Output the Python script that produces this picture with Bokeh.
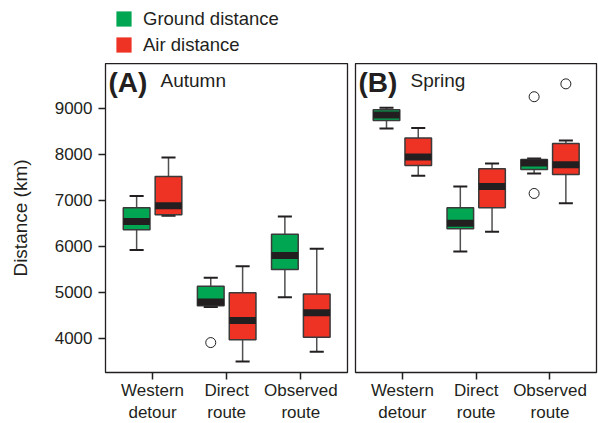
from bokeh.plotting import figure
from bokeh.models import Range1d, FixedTicker, Label, Legend, LegendItem, ColumnDataSource
from bokeh.layouts import row, column
from bokeh.embed import file_html
from bokeh.resources import INLINE

categories = ["Western\ndetour", "Direct\nroute", "Observed\nroute"]
seasons = ["Autumn", "Spring"]
panel_tags = ["(A)", "(B)"]
series = ["Ground distance", "Air distance"]
y_ticks = [4000, 5000, 6000, 7000, 8000, 9000]

# each entry: (whisker low, Q1, median, Q3, whisker high), per category
autumn_ground = [(5920, 6360, 6540, 6840, 7095),
                 (4680, 4705, 4790, 5130, 5315),
                 (4890, 5495, 5800, 6260, 6650)]
autumn_air = [(6665, 6685, 6880, 7520, 7935),
              (3495, 3965, 4385, 4990, 5565),
              (3705, 4020, 4555, 4960, 5945)]
spring_ground = [(8565, 8740, 8860, 8970, 9015),
                 (5885, 6380, 6500, 6840, 7300),
                 (7585, 7670, 7815, 7890, 7910)]
spring_air = [(7535, 7760, 7945, 8355, 8575),
              (6315, 6840, 7300, 7685, 7800),
              (6935, 7560, 7775, 8235, 8300)]

# outliers: (category index, value)
autumn_ground_out = [(1, 3905)]
autumn_air_out = []
spring_ground_out = [(2, 9255), (2, 7150)]
spring_air_out = [(2, 9535)]

GREEN = "#00a651"
RED = "#ee3224"
DARK = "#231f20"
FONT = "Liberation Sans"
OFFSET = 0.215
BOX_W = 0.36
CAP_W = 0.19


def make_panel(ground, air, g_out, a_out, tag, season, first):
    p = figure(frame_width=242 if first else 241, frame_height=309,
               x_range=Range1d(-0.635, 2.63), y_range=Range1d(3254, 9978),
               output_backend="svg", toolbar_location=None,
               min_border_left=105 if first else 4,
               min_border_right=4 if first else 2,
               min_border_top=0, min_border_bottom=51,
               y_axis_location="left" if first else None)
    p.xgrid.visible = False
    p.ygrid.visible = False
    p.outline_line_color = DARK
    p.outline_line_width = 1.3
    p.background_fill_color = "white"
    p.border_fill_color = "white"

    for data, outs, color, off in ((ground, g_out, GREEN, -OFFSET), (air, a_out, RED, OFFSET)):
        xs = [i + off for i in range(len(data))]
        src = ColumnDataSource(dict(
            x=xs,
            lo=[d[0] for d in data], q1=[d[1] for d in data], med=[d[2] for d in data],
            q3=[d[3] for d in data], hi=[d[4] for d in data],
            cl=[x - CAP_W / 2 for x in xs], cr=[x + CAP_W / 2 for x in xs],
            ml=[x - BOX_W / 2 for x in xs], mr=[x + BOX_W / 2 for x in xs],
        ))
        p.segment(x0="x", y0="q3", x1="x", y1="hi", source=src, line_color="#505050", line_width=1.5)
        p.segment(x0="x", y0="lo", x1="x", y1="q1", source=src, line_color="#505050", line_width=1.5)
        p.segment(x0="cl", y0="hi", x1="cr", y1="hi", source=src, line_color=DARK, line_width=2)
        p.segment(x0="cl", y0="lo", x1="cr", y1="lo", source=src, line_color=DARK, line_width=2)
        p.vbar(x="x", width=BOX_W, bottom="q1", top="q3", source=src,
               fill_color=color, line_color="#3a3a3a", line_width=1.5)
        p.segment(x0="ml", y0="med", x1="mr", y1="med", source=src,
                  line_color=DARK, line_width=7, line_cap="butt")
        if outs:
            p.scatter(x=[o[0] + off for o in outs], y=[o[1] for o in outs], size=10,
                      marker="circle", fill_color="white", line_color=DARK, line_width=1)

    p.xaxis.ticker = FixedTicker(ticks=[0, 1, 2])
    p.xaxis.major_label_overrides = {i: c for i, c in enumerate(categories)}
    p.xaxis.major_label_text_font = FONT
    p.xaxis.major_label_text_font_size = "17px"
    p.xaxis.major_label_text_color = DARK
    p.xaxis.major_label_standoff = 1
    p.xaxis.axis_line_color = None
    p.xaxis.major_tick_out = 7
    p.xaxis.major_tick_in = 0
    p.xaxis.major_tick_line_width = 1.5
    p.xaxis.major_tick_line_color = DARK
    p.xaxis.minor_tick_line_color = None

    if first:
        p.yaxis.ticker = FixedTicker(ticks=y_ticks)
        p.yaxis.major_label_text_font = FONT
        p.yaxis.major_label_text_font_size = "17px"
        p.yaxis.major_label_text_color = DARK
        p.yaxis.major_label_standoff = 6
        p.yaxis.axis_line_color = None
        p.yaxis.major_tick_out = 7
        p.yaxis.major_tick_in = 0
        p.yaxis.major_tick_line_width = 1.5
        p.yaxis.major_tick_line_color = DARK
        p.yaxis.minor_tick_line_color = None
        p.yaxis.axis_label = "Distance (km)"
        p.yaxis.axis_label_text_font = FONT
        p.yaxis.axis_label_text_font_size = "19px"
        p.yaxis.axis_label_text_font_style = "normal"
        p.yaxis.axis_label_text_color = DARK
        p.yaxis.axis_label_standoff = 21

    p.add_layout(Label(x=3, y=306, x_units="screen", y_units="screen", text=tag,
                       text_font=FONT, text_font_size="28px", text_font_style="bold",
                       text_color=DARK, text_align="left", text_baseline="top"))
    p.add_layout(Label(x=55, y=303, x_units="screen", y_units="screen", text=season,
                       text_font=FONT, text_font_size="19px", text_color=DARK,
                       text_align="left", text_baseline="top"))
    return p


pA = make_panel(autumn_ground, autumn_air, autumn_ground_out, autumn_air_out,
                panel_tags[0], seasons[0], True)
pB = make_panel(spring_ground, spring_air, spring_ground_out, spring_air_out,
                panel_tags[1], seasons[1], False)

# legend strip above the panels (swatch renderers sit far outside the visible range)
pL = figure(frame_width=598, frame_height=63, x_range=Range1d(0, 1), y_range=Range1d(0, 1),
            output_backend="svg", toolbar_location=None,
            min_border_left=0, min_border_right=0, min_border_top=0, min_border_bottom=0,
            x_axis_location=None, y_axis_location=None)
pL.xgrid.visible = False
pL.ygrid.visible = False
pL.outline_line_color = None
pL.border_fill_color = "white"
pL.background_fill_color = "white"
rg = pL.vbar(x=[-5], bottom=[-6], top=[-5], width=0.1, fill_color=GREEN, line_color=None)
rr = pL.vbar(x=[-5], bottom=[-6], top=[-5], width=0.1, fill_color=RED, line_color=None)
legend = Legend(items=[LegendItem(label=series[0], renderers=[rg]),
                       LegendItem(label=series[1], renderers=[rr])],
                location=(114, 7.5), orientation="vertical",
                glyph_width=19, glyph_height=19, label_height=19,
                label_text_font=FONT, label_text_font_size="18.5px", label_text_color=DARK,
                label_standoff=10, spacing=4, padding=0, margin=0,
                border_line_color=None, background_fill_alpha=0)
pL.add_layout(legend)

layout = column(pL, row(pA, pB, spacing=0), spacing=0)
open("out.html", "w").write(file_html(layout, INLINE))
